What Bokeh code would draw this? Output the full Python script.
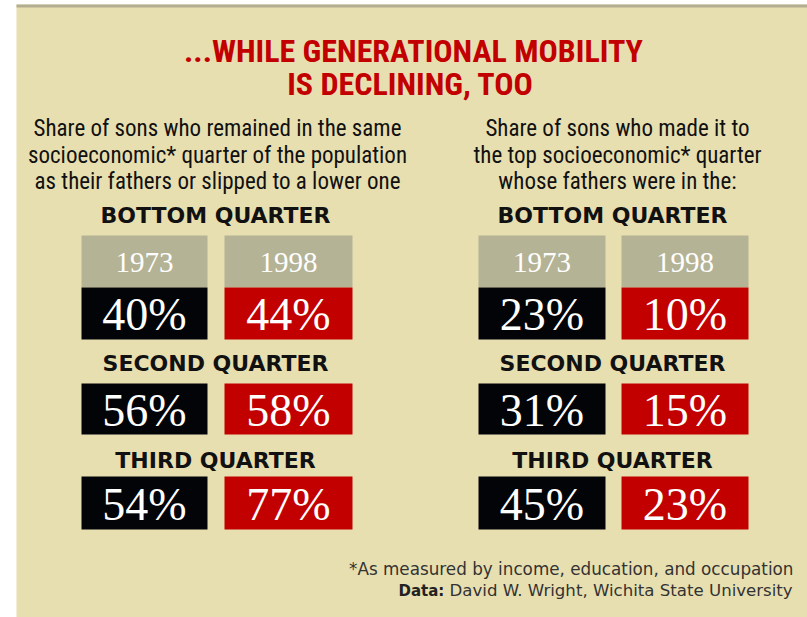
from bokeh.plotting import figure
from bokeh.models import Range1d, ColumnDataSource
from bokeh.core.properties import value
from bokeh.embed import file_html
from bokeh.resources import INLINE

# ---------------- data ----------------
title_lines = ["...WHILE GENERATIONAL MOBILITY", "IS DECLINING, TOO"]
left_sub = ["Share of sons who remained in the same",
            "socioeconomic* quarter of the population",
            "as their fathers or slipped to a lower one"]
right_sub = ["Share of sons who made it to",
             "the top socioeconomic* quarter",
             "whose fathers were in the:"]
groups = ["BOTTOM QUARTER", "SECOND QUARTER", "THIRD QUARTER"]
years = ["1973", "1998"]
stayed_1973 = [40, 56, 54]
stayed_1998 = [44, 58, 77]
top_1973 = [23, 31, 45]
top_1998 = [10, 15, 23]
footnote = "*As measured by income, education, and occupation"
source_label = "Data:"
source_text = "David W. Wright, Wichita State University"

# ---------------- style / layout ----------------
W, H = 807, 617
BG = "#E8DFB0"
STRIP = "#B3AE92"
GRAY = "#B5B396"
BLACK = "#020408"
RED = "#C20000"
COND = value("Roboto Condensed")
SERIF = value("Liberation Serif")
WIDE = value("DejaVu Sans")

panel_box_x = [[(81, 207), (224, 352)], [(478, 605), (621, 748)]]
panel_cx = [215, 612]
header_y = [215, 363, 460]
year_box = (235, 287)
value_box = [(287, 339), (383, 434), (476, 529)]
box_colors = [BLACK, RED]

p = figure(width=W, height=H, x_range=Range1d(0, W), y_range=Range1d(H, 0),
           output_backend="svg", toolbar_location=None, min_border=0)
p.axis.visible = False
p.grid.visible = False
p.outline_line_color = None
p.background_fill_color = "white"
p.border_fill_color = "white"

# background panel and top strip
p.quad(left=[16], right=[W], top=[4], bottom=[H], fill_color=BG, line_color=None)
p.quad(left=[16], right=[W], top=[4], bottom=[7], fill_color=STRIP, line_color=None)

# title
p.text(x=[413, 410], y=[50, 83], text=title_lines, text_font=COND, text_font_style="bold",
       text_font_size="32px", text_color=RED, text_align="center", text_baseline="middle")

# subtitles
p.text(x=[217] * 3, y=[128, 155, 181], text=left_sub, text_font=COND,
       text_font_size="23px", text_color="#111111", text_align="center", text_baseline="middle")
p.text(x=[617] * 3, y=[128, 155, 181], text=right_sub, text_font=COND,
       text_font_size="23px", text_color="#111111", text_align="center", text_baseline="middle")

panels = [(stayed_1973, stayed_1998), (top_1973, top_1998)]
for pi, (v73, v98) in enumerate(panels):
    # group headers
    p.text(x=[panel_cx[pi]] * len(groups), y=header_y, text=groups, text_font=WIDE,
           text_font_style="bold", text_font_size="22px", text_color="#111111",
           text_align="center", text_baseline="middle")
    # year header boxes
    xs = panel_box_x[pi]
    p.quad(left=[a for a, b in xs], right=[b for a, b in xs], top=[year_box[0]] * 2,
           bottom=[year_box[1]] * 2, fill_color=GRAY, line_color=None)
    p.text(x=[(a + b) / 2 for a, b in xs], y=[(year_box[0] + year_box[1]) / 2 + 1] * 2,
           text=years, text_font=SERIF, text_font_size="29px", text_color="white",
           text_align="center", text_baseline="middle")
    # value boxes
    for yi, vals in enumerate([v73, v98]):
        a, b = xs[yi]
        src = ColumnDataSource(dict(
            left=[a] * len(vals), right=[b] * len(vals),
            top=[t for t, _ in value_box], bottom=[bt for _, bt in value_box],
            cx=[(a + b) / 2] * len(vals),
            cy=[(t + bt) / 2 + 1 for t, bt in value_box],
            label=[f"{v}%" for v in vals]))
        p.quad(left="left", right="right", top="top", bottom="bottom", source=src,
               fill_color=box_colors[yi], line_color=None)
        p.text(x="cx", y="cy", text="label", source=src, text_font=SERIF,
               text_font_size="46px", text_color="white", text_align="center",
               text_baseline="middle")

# footnotes
p.text(x=[793], y=[568], text=[footnote], text_font=WIDE, text_font_size="16.8px",
       text_color="#333333", text_align="right", text_baseline="middle")
p.text(x=[398], y=[590], text=[source_label], text_font=WIDE, text_font_style="bold",
       text_font_size="15px", text_color="#222222", text_align="left", text_baseline="middle")
p.text(x=[449], y=[590], text=[source_text], text_font=WIDE, text_font_size="16.6px",
       text_color="#333333", text_align="left", text_baseline="middle")

open("out.html", "w").write(file_html(p, INLINE))
